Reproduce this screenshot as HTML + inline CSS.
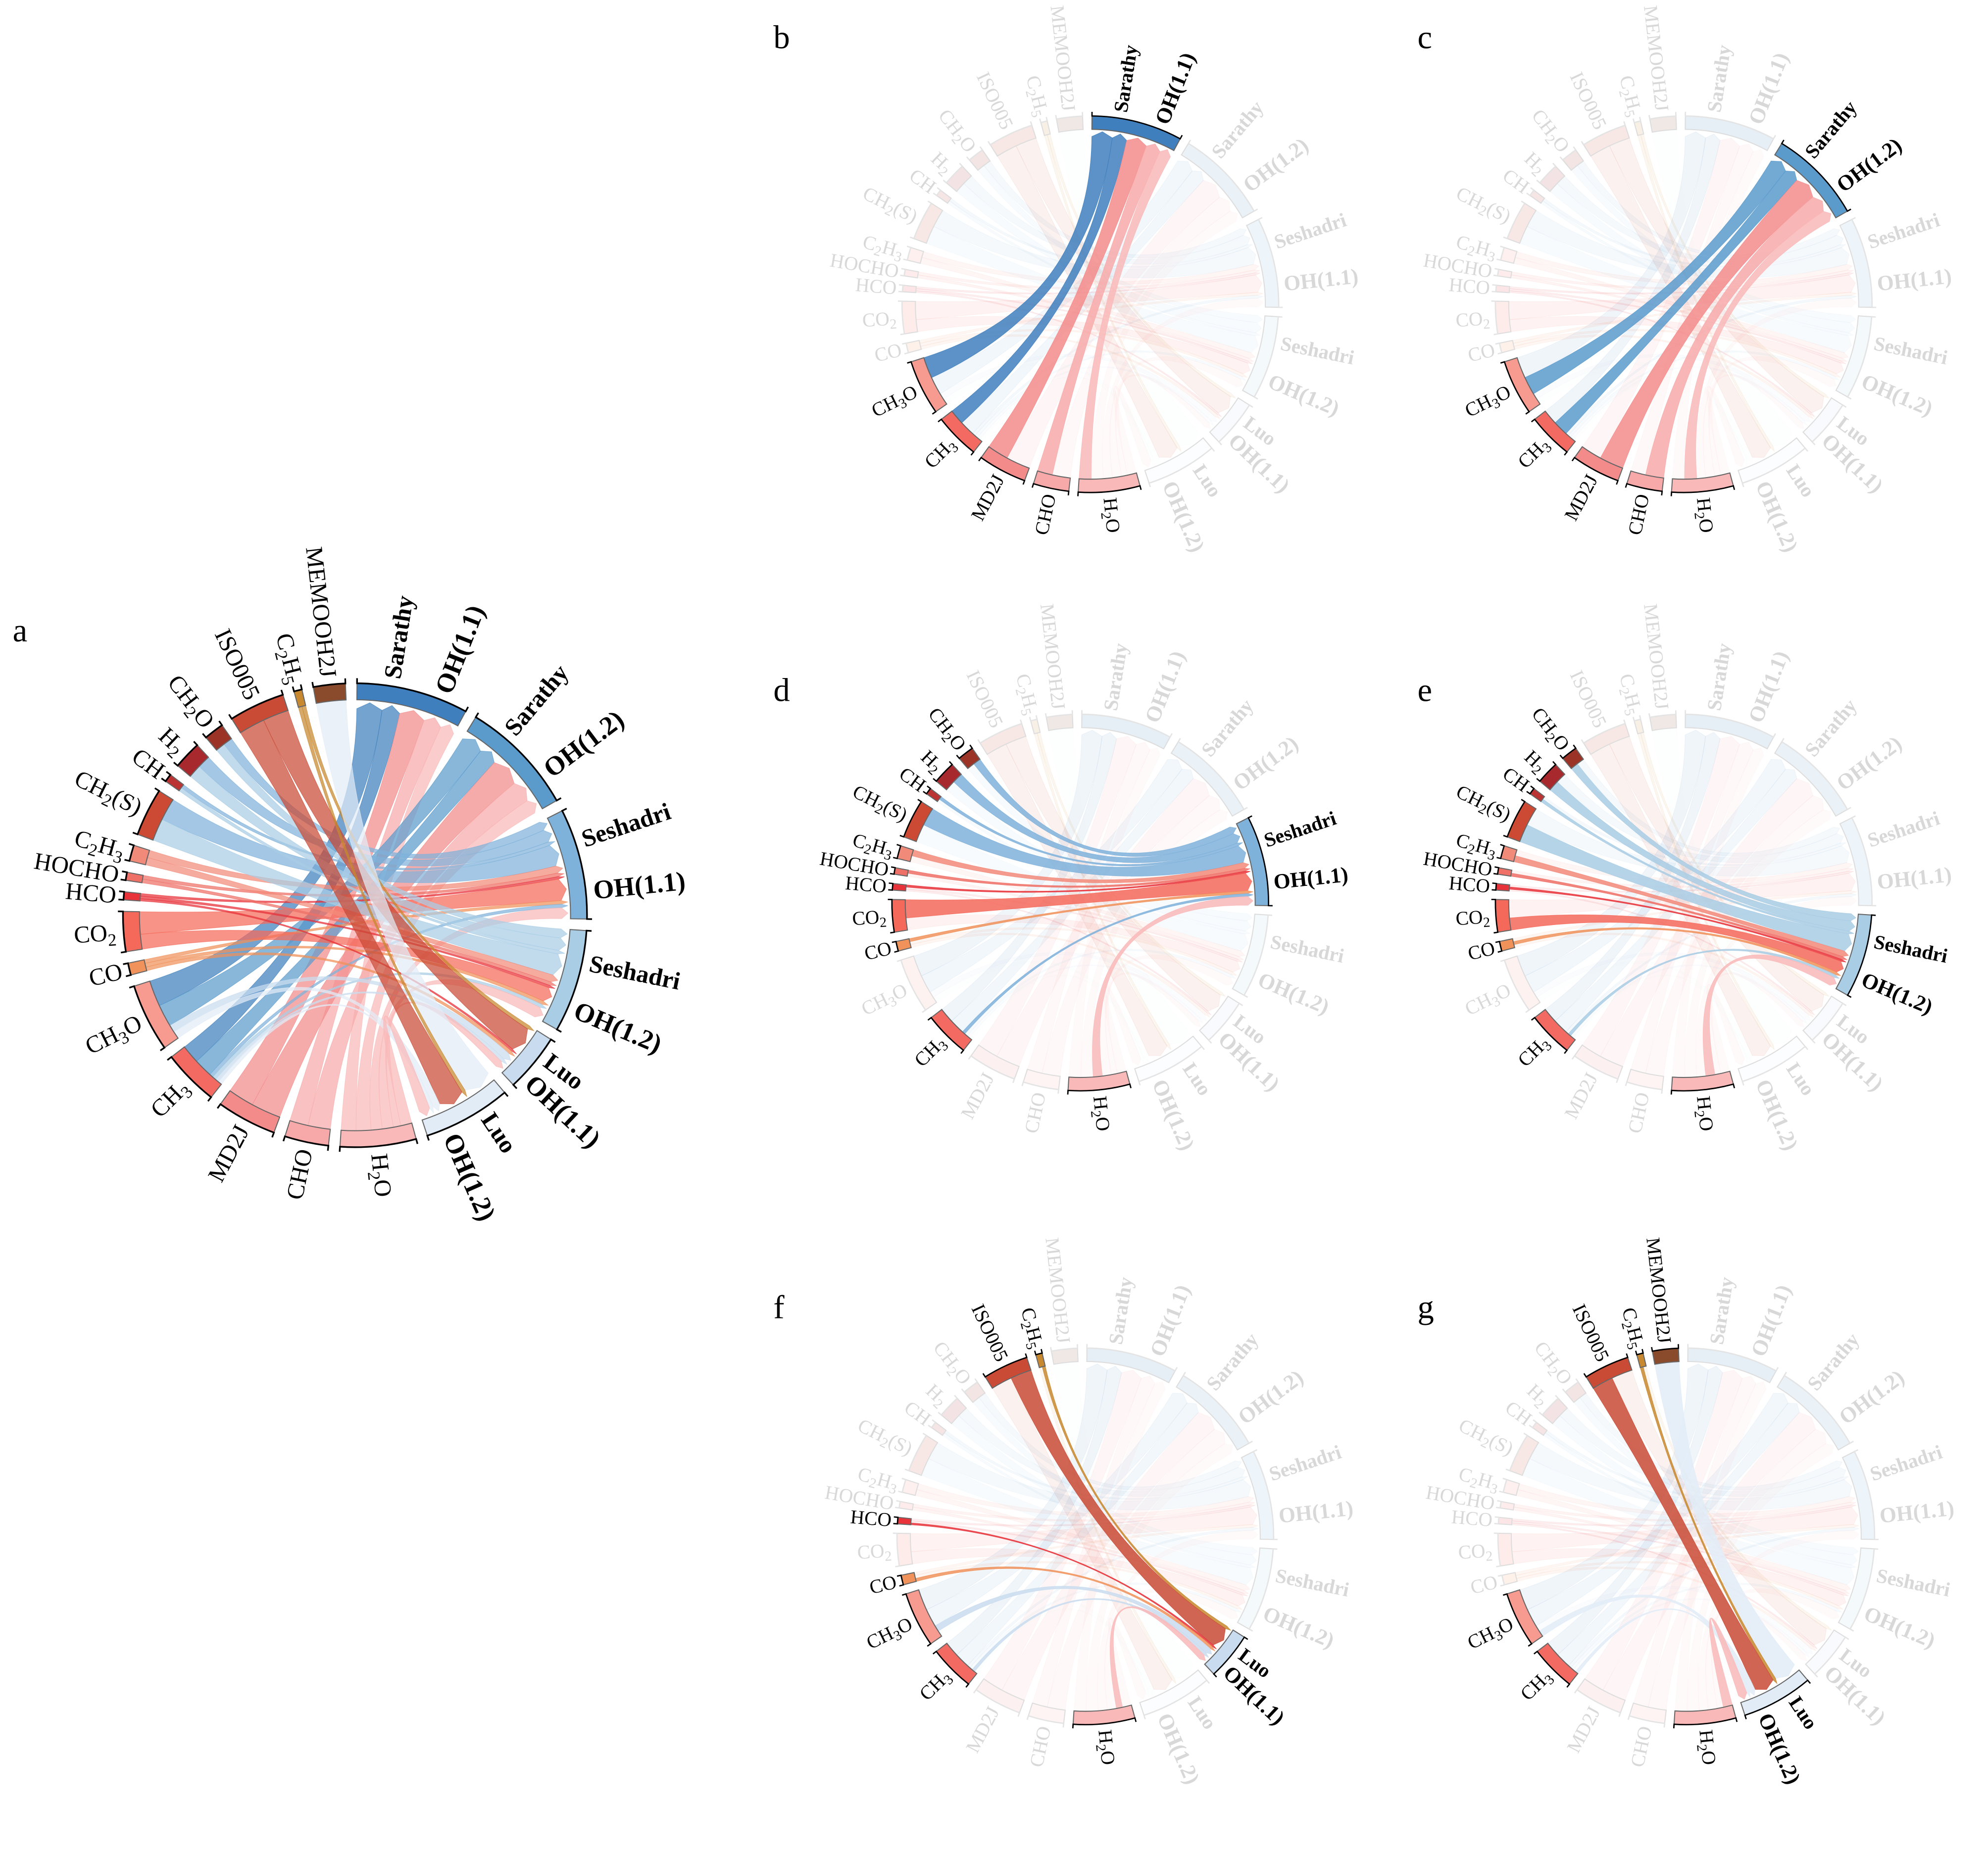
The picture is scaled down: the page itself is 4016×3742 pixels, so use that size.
<!DOCTYPE html>
<html><head><meta charset="utf-8"><style>
html,body{margin:0;padding:0;background:#fff}
svg{display:block}
text{font-family:"Liberation Serif",serif}
</style></head><body>
<svg id="fig" width="4016" height="3742" viewBox="0 0 1568 1461" xmlns="http://www.w3.org/2000/svg">
<rect width="1568" height="1461" fill="#fff"/>
<text x="10" y="506" font-size="26">a</text>
<text x="610" y="38" font-size="26">b</text>
<text x="1118" y="38" font-size="26">c</text>
<text x="610" y="553" font-size="26">d</text>
<text x="1118" y="553" font-size="26">e</text>
<text x="610" y="1040" font-size="26">f</text>
<text x="1118" y="1040" font-size="26">g</text>
</svg>
<script>
// ---- data ----
const species = ['H2O','CHO','MD2J','CH3','CH3O','CO','CO2','HCO','HOCHO','C2H3','CH2(S)','CH','H2','CH2O','ISO005','C2H5','MEMOOH2J'];
const targetNames = ['Sarathy','Sarathy','Seshadri','Seshadri','Luo','Luo'];
const targetCases = ['OH(1.1)','OH(1.2)','OH(1.1)','OH(1.2)','OH(1.1)','OH(1.2)'];
// flows from each species into each target (species order above)
const flowSarathy11  = [4,5,7,5,7,0,0,0,0,0,0,0,0,0,0,0,0];
const flowSarathy12  = [4,6,8,5,6,0,0,0,0,0,0,0,0,0,0,0,0];
const flowSeshadri11 = [3,0,0,1,0,1,6,0.7,1,2,6,1,3.5,2.5,0,0,0];
const flowSeshadri12 = [3,0,0,1,0,1,4,0.7,1,2,6,1,3.5,2.5,0,0,0];
const flowLuo11      = [2,0,0,1,2,1,0,0.6,0,0,0,0,0,0,7,1,0];
const flowLuo12      = [3,0,0,1,2,0,0,0,0,0,0,0,0,0,7,1,8];
// ---- styles ----
const flows=[flowSarathy11,flowSarathy12,flowSeshadri11,flowSeshadri12,flowLuo11,flowLuo12];
const spColor={'H2O':'#f9b9b9','CHO':'#f7a9a9','MD2J':'#f38b8b','CH3':'#f26a62','CH3O':'#f79a90','CO':'#f0925a','CO2':'#f5695a','HCO':'#e8333a','HOCHO':'#ee7066','C2H3':'#f28a7a','CH2(S)':'#cc4a33','CH':'#b33','H2':'#a8292d','CH2O':'#9b3326','ISO005':'#c94a35','C2H5':'#c8882f','MEMOOH2J':'#8a4a2c'};
const tgColor=['#3f7fbd','#5b9bcc','#7fb2da','#a9cde4','#c9dcef','#e2ecf7'];
const blueSp=new Set(['CH3O','CH3','CH2(S)','H2','CH','CH2O','MEMOOH2J']);
const subSp=new Set(['H2O','CH3','CH3O','CO2','C2H3','CH2(S)','H2','CH2O','C2H5']);
const NS='http://www.w3.org/2000/svg';
const svg=document.getElementById('fig');
const GAP=2.87;
function mk(tag,attrs,parent){const e=document.createElementNS(NS,tag);for(const k in attrs)e.setAttribute(k,attrs[k]);parent.appendChild(e);return e;}
function layout(){
  const tot=flows.map(f=>f.reduce((a,b)=>a+b,0));
  const spTot=species.map((s,i)=>flows.reduce((a,f)=>a+f[i],0));
  const sum=tot.reduce((a,b)=>a+b,0)+spTot.reduce((a,b)=>a+b,0);
  const k=(360-GAP*(tot.length+species.length))/sum;
  let a=0.5;const tg=[],sp=[];
  tot.forEach((t,i)=>{tg.push([a,a+t*k]);a+=t*k+GAP;});
  spTot.forEach((t,i)=>{sp.push([a,a+t*k]);a+=t*k+GAP;});
  return {tg,sp,k};
}
const L=layout();
function drawPanel(cx,cy,R,sc,hl,pname){
  const g=mk('g',{},svg);
  
  
  const P=(th,r)=>{const t=th*Math.PI/180;return [cx+r*Math.sin(t),cy-r*Math.cos(t)];};
  const f=p=>p[0].toFixed(2)+' '+p[1].toFixed(2);
  const active=i=>hl<0||flows[hl][i]>0;
  const W=13*sc;
  const tgCursor=L.tg.map(t=>t[0]);
  const chords=[];
  for(let t=0;t<6;t++){
    for(let s=species.length-1;s>=0;s--){
      const v=flows[t][s]; if(!v) continue;
      const tb0=tgCursor[t], tb1=tb0+v*L.k; tgCursor[t]=tb1;
      chords.push({t,s,tb0,tb1,v});
    }
  }
  const spC=L.sp.map(s=>s[0]);
  for(let s=0;s<species.length;s++){
    for(let t=5;t>=0;t--){
      const c=chords.find(c=>c.s===s&&c.t===t); if(!c) continue;
      c.sa0=spC[s]; c.sa1=spC[s]+c.v*L.k; spC[s]=c.sa1;
    }
  }
  const isHL=c=>hl<0||c.t===hl;
  const order=chords.filter(c=>!isHL(c)).concat(chords.filter(isHL));
  const Rt=R-7*sc;
  order.forEach(c=>{
    const col=blueSp.has(species[c.s])?tgColor[c.t]:spColor[species[c.s]];
    const d='M'+f(P(c.sa0,R))+' A'+R+' '+R+' 0 0 1 '+f(P(c.sa1,R))+' Q'+cx+' '+cy+' '+f(P(c.tb0,Rt))+
      ' L'+f(P((c.tb0+c.tb1)/2,Rt+5*sc))+' L'+f(P(c.tb1,Rt))+' Q'+cx+' '+cy+' '+f(P(c.sa0,R))+'Z';
    const op=isHL(c)?(hl<0?0.72:0.85):0.08;
    const el=mk('path',{d,fill:col,'fill-opacity':op,stroke:col,'stroke-opacity':op,'stroke-width':0.4},g);
    
    
  });
  function ring(a0,a1,col,on,name){
    const op=on?1:0.13;
    const d='M'+f(P(a0,R))+' A'+R+' '+R+' 0 0 1 '+f(P(a1,R))+' L'+f(P(a1,R+W))+' A'+(R+W)+' '+(R+W)+' 0 0 0 '+f(P(a0,R+W))+'Z';
    const el=mk('path',{d,fill:col,'fill-opacity':op,stroke:on?'#666':'#ddd','stroke-width':0.8},g);
    
    
    const Ro=R+W,Rk=Ro+4*sc;
    const ln=mk('path',{d:'M'+f(P(a0,Rk))+' L'+f(P(a0,Ro))+' A'+Ro+' '+Ro+' 0 0 1 '+f(P(a1,Ro))+' L'+f(P(a1,Rk)),fill:'none',stroke:on?'#000':'#e4e4e4','stroke-width':1.3*sc},g);
    
    
  }
  function label(th,r,txt,fs,bold,col,sub,name){
    const p=P(th,r);
    const right=th<180;
    const rot=right?th-90:th+90;
    const t=mk('text',{x:p[0],y:p[1],'font-size':fs,'font-weight':bold?'bold':'normal',fill:col,
      'text-anchor':right?'start':'end','dominant-baseline':'central',transform:'rotate('+rot.toFixed(2)+' '+p[0].toFixed(2)+' '+p[1].toFixed(2)+')'},g);
    
    
    if(sub){
      const parts=txt.split(/(\d)/);
      let down=false;
      parts.forEach(pt=>{ if(!pt) return;
        const isD=/^\d$/.test(pt);
        const ts=mk('tspan',{},t);
        if(isD){ts.setAttribute('font-size',fs*0.72);ts.setAttribute('dy',(down?0:fs*0.3));down=true;}
        else if(down){ts.setAttribute('dy',-fs*0.3);down=false;}
        ts.textContent=pt;});
    } else t.textContent=txt;
  }
  L.tg.forEach((a,i)=>{
    const on=hl<0||hl===i;
    ring(a[0],a[1],tgColor[i],on,'ring-'+targetNames[i].toLowerCase()+'-'+(i%2?'12':'11'));
    const span=a[1]-a[0];
    const col=on?'#000':'#d8d8d8';
    label(a[0]+span*0.3,R+W+6*sc,targetNames[i],19.5*sc,true,col,false,'label-'+targetNames[i].toLowerCase()+'-'+(i+1));
    label(a[0]+span*0.75,R+W+6*sc,targetCases[i],21*sc,true,col,false,'label-case-'+(i+1));
  });
  L.sp.forEach((a,i)=>{
    const on=active(i);
    const nm=species[i].toLowerCase().replace(/[()]/g,'');
    ring(a[0],a[1],spColor[species[i]],on,'ring-'+nm);
    label((a[0]+a[1])/2,R+W+6*sc,species[i],19*sc,false,on?'#000':'#d8d8d8',subSp.has(species[i]),'label-'+nm);
  });
}
drawPanel(280,722,170,1,-1,'panel-a');
const s2=0.81;
drawPanel(860,240,138,s2,0,'panel-b');
drawPanel(1328,240,138,s2,1,'panel-c');
drawPanel(852,712,138,s2,2,'panel-d');
drawPanel(1328,712,138,s2,3,'panel-e');
drawPanel(856,1212,138,s2,4,'panel-f');
drawPanel(1330,1212,138,s2,5,'panel-g');
</script>
</body></html>
